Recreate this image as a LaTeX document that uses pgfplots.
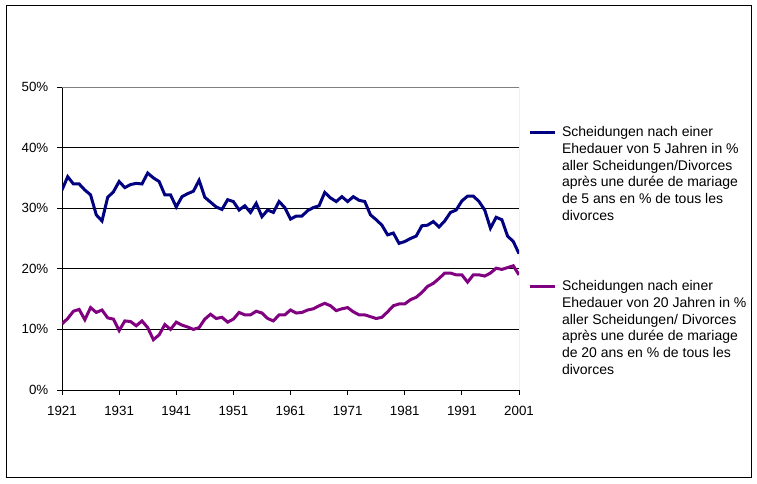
\documentclass[border=0pt]{standalone}
\usepackage{fontspec}
\setmainfont{Liberation Sans}
\usepackage{pgfplots}
\usepackage{pgfplotstable}
\pgfplotsset{compat=1.18}
\definecolor{navyline}{RGB}{0,0,128}
\definecolor{purpleline}{RGB}{128,0,128}
\definecolor{borderGray}{RGB}{128,128,128}

\pgfplotstableread{
year five twenty
1921 33.0 10.9
1922 35.2 11.8
1923 34.0 13.0
1924 34.0 13.3
1925 33.0 11.6
1926 32.2 13.6
1927 28.9 12.8
1928 27.9 13.2
1929 31.8 11.9
1930 32.7 11.7
1931 34.4 9.8
1932 33.4 11.4
1933 33.9 11.3
1934 34.1 10.6
1935 34.0 11.4
1936 35.8 10.3
1937 35.0 8.3
1938 34.4 9.1
1939 32.2 10.8
1940 32.2 10.0
1941 30.2 11.2
1942 31.9 10.7
1943 32.4 10.4
1944 32.8 10.0
1945 34.6 10.3
1946 31.8 11.7
1947 31.0 12.5
1948 30.2 11.8
1949 29.8 12.0
1950 31.4 11.2
1951 31.1 11.7
1952 29.7 12.8
1953 30.4 12.4
1954 29.3 12.4
1955 30.8 13.0
1956 28.6 12.7
1957 29.7 11.8
1958 29.3 11.4
1959 31.1 12.4
1960 30.1 12.4
1961 28.2 13.2
1962 28.7 12.7
1963 28.7 12.8
1964 29.6 13.2
1965 30.1 13.4
1966 30.4 13.9
1967 32.6 14.3
1968 31.7 13.9
1969 31.1 13.1
1970 31.9 13.4
1971 31.1 13.6
1972 31.9 12.9
1973 31.3 12.4
1974 31.1 12.4
1975 28.9 12.1
1976 28.1 11.8
1977 27.2 12.0
1978 25.6 12.9
1979 25.9 13.9
1980 24.2 14.2
1981 24.5 14.2
1982 25.0 14.9
1983 25.4 15.3
1984 27.1 16.1
1985 27.2 17.1
1986 27.8 17.6
1987 26.9 18.4
1988 27.9 19.3
1989 29.3 19.3
1990 29.7 19.0
1991 31.2 19.0
1992 32.0 17.8
1993 32.0 19.0
1994 31.1 19.0
1995 29.7 18.8
1996 26.7 19.3
1997 28.5 20.1
1998 28.1 19.9
1999 25.4 20.2
2000 24.5 20.5
2001 22.5 19.0
}\datatable

\begin{document}
\begin{tikzpicture}
\useasboundingbox (0,0) rectangle (567.75pt,362.25pt);
\draw[black, line width=0.75pt] (4.5pt,4.5pt) rectangle (563.25pt,357.75pt);
\begin{axis}[
  at={(46.5pt,69.75pt)}, anchor=south west,
  scale only axis, width=342.75pt, height=227.25pt,
  xmin=1921, xmax=2001, ymin=0, ymax=50,
  axis x line*=bottom, axis y line*=left,
  axis line style={black, line width=0.75pt},
  xtick={1921,1931,...,2001},
  ytick={0,10,...,50},
  tick align=outside, major tick length=3.75pt,
  tick style={black, line width=0.75pt},
  minor tick num=0,
  ymajorgrids, grid style={black, line width=0.75pt},
  yticklabel={\pgfmathprintnumber{\tick}\%},
  /pgf/number format/1000 sep={},
  /pgf/number format/assume math mode=true,
  tick label style={font=\fontsize{10}{12}\selectfont},
  xticklabel style={yshift=-4.5pt},
  yticklabel style={xshift=-3pt},
  legend style={draw=none, fill=none, at={(1,1)}, anchor=north west,
    xshift=6.75pt, yshift=-29.84pt, inner sep=0pt, outer sep=0pt,
    row sep=45.3pt, column sep=4.5pt,
    font=\fontsize{10.5}{12.5}\selectfont,
    nodes={inner sep=0pt, outer sep=0pt, text depth={}},
    cells={anchor=base west}},
  legend image code/.code={\draw[#1, yshift=3.45pt] (0pt,0pt) -- (18.75pt,0pt);},
]
\addplot[navyline, line width=2.25pt] table[x=year,y=five] {\datatable};
\addlegendentry{\parbox[t]{190pt}{\raggedright Scheidungen nach einer\\Ehedauer von 5 Jahren in \%\\aller Scheidungen/Divorces\\après une durée de mariage\\de 5 ans en \% de tous les\\divorces}}
\addplot[purpleline, line width=2.25pt] table[x=year,y=twenty] {\datatable};
\addlegendentry{\parbox[t]{190pt}{\raggedright Scheidungen nach einer\\Ehedauer von 20 Jahren in \%\\aller Scheidungen/ Divorces\\après une durée de mariage\\de 20 ans en \% de tous les\\divorces}}
\draw[borderGray, line width=0.75pt] (rel axis cs:0,1) -- (rel axis cs:1,1) -- (rel axis cs:1,0);
\end{axis}
\end{tikzpicture}
\end{document}
